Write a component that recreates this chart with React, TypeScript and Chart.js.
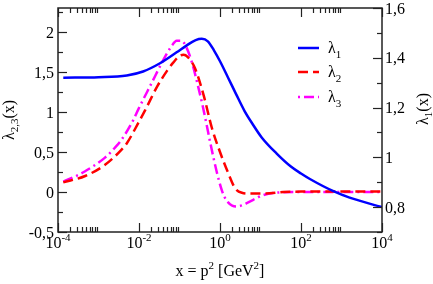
import React, { useEffect, useRef } from "react";
import { Chart, registerables } from "chart.js";

Chart.register(...registerables);

// ---- data (x = p^2 in GeV^2) ----
const lambda1X = [1.35e-4, 1e-3, 5.0e-3, 0.0126, 0.033, 0.085, 0.151, 0.251, 0.355, 0.501, 0.708, 1.0, 1.585, 2.512, 3.98, 6.31, 10.7, 25.1, 56.2, 100, 166, 631, 1585, 10000];
const lambda1Y = [1.32, 1.322, 1.329, 1.345, 1.378, 1.422, 1.45, 1.471, 1.476, 1.466, 1.43, 1.386, 1.32, 1.253, 1.188, 1.135, 1.08, 1.015, 0.963, 0.935, 0.913, 0.864, 0.838, 0.8];

const lambda2X = [1.35e-4, 4.68e-4, 1.45e-3, 3.72e-3, 5.01e-3, 9.55e-3, 0.0141, 0.0282, 0.0501, 0.0708, 0.1, 0.126, 0.158, 0.24, 0.389, 0.631, 1.0, 1.585, 2.34, 3.47, 5.5, 12.9, 36.3, 100, 10000];
const lambda2Y = [0.12, 0.2, 0.34, 0.53, 0.61, 0.86, 1.02, 1.32, 1.52, 1.62, 1.7, 1.715, 1.69, 1.55, 1.22, 0.8, 0.5, 0.24, 0.05, -0.01, -0.02, -0.02, 0.0, 0.005, 0.005];

const lambda3X = [1.35e-4, 3.09e-4, 4.68e-4, 1.45e-3, 2.51e-3, 3.55e-3, 7.24e-3, 9.55e-3, 0.0204, 0.0398, 0.0631, 0.0851, 0.112, 0.138, 0.2, 0.288, 0.38, 0.468, 0.562, 0.832, 1.096, 1.259, 1.585, 1.995, 2.63, 3.55, 4.57, 8.13, 10.7, 20.4, 100, 10000];
const lambda3Y = [0.13, 0.21, 0.26, 0.43, 0.55, 0.64, 0.9, 1.03, 1.36, 1.65, 1.82, 1.89, 1.89, 1.84, 1.63, 1.32, 1.06, 0.84, 0.64, 0.25, 0.03, -0.05, -0.13, -0.17, -0.18, -0.165, -0.14, -0.075, -0.045, -0.012, 0.0, 0.0];

const seriesLabels = ["λ1", "λ2", "λ3"];
const seriesColors = ["#0000ff", "#ff0000", "#ff00ff"];

// ---- ticks ----
const xMajorTicks = [1e-4, 1e-2, 1, 1e2, 1e4];
const xMajorExps = ["-4", "-2", "0", "2", "4"];
const yLeftTicks = [-0.5, 0, 0.5, 1, 1.5, 2];
const yLeftLabels = ["-0,5", "0", "0,5", "1", "1,5", "2"];
const yLeftMinor = [-0.25, 0.25, 0.75, 1.25, 1.75, 2.25];
const yRightTicks = [0.8, 1, 1.2, 1.4, 1.6];
const yRightLabels = ["0,8", "1", "1,2", "1,4", "1,6"];
const yRightMinor = [0.7, 0.9, 1.1, 1.3, 1.5];

const FONT = '"Liberation Serif", "DejaVu Serif", serif';

type Part = { t: string; size: number; dy: number };

function partsWidth(ctx: CanvasRenderingContext2D, parts: Part[]) {
  let w = 0;
  for (const p of parts) {
    ctx.font = `${p.size}px ${FONT}`;
    w += ctx.measureText(p.t).width;
  }
  return w;
}

function drawParts(ctx: CanvasRenderingContext2D, parts: Part[], x: number, y: number, align: "left" | "center" | "right") {
  const w = partsWidth(ctx, parts);
  let cx = align === "left" ? x : align === "center" ? x - w / 2 : x - w;
  ctx.textAlign = "left";
  ctx.textBaseline = "alphabetic";
  for (const p of parts) {
    ctx.font = `${p.size}px ${FONT}`;
    ctx.fillText(p.t, cx, y + p.dy);
    cx += ctx.measureText(p.t).width;
  }
}

const decorPlugin = {
  id: "decor",
  afterDraw(chart: any) {
    const ctx: CanvasRenderingContext2D = chart.ctx;
    const ca = chart.chartArea;
    const sx = chart.scales.x;
    const sl = chart.scales.yL;
    const sr = chart.scales.yR;
    ctx.save();
    ctx.strokeStyle = "#222";
    ctx.fillStyle = "#000";

    // ticks
    ctx.lineWidth = 1.2;
    const line = (x1: number, y1: number, x2: number, y2: number) => {
      ctx.beginPath();
      ctx.moveTo(x1, y1);
      ctx.lineTo(x2, y2);
      ctx.stroke();
    };
    const MAJ = 9;
    const MIN = 5;
    xMajorTicks.forEach((v, i) => {
      const px = Math.round(sx.getPixelForValue(v)) + 0.5;
      line(px, ca.bottom, px, ca.bottom - MAJ);
      line(px, ca.top, px, ca.top + MAJ);
      if (i < xMajorTicks.length - 1) {
        for (let k = 2; k <= 9; k++) {
          const mx = Math.round(sx.getPixelForValue(v * k)) + 0.5;
          line(mx, ca.bottom, mx, ca.bottom - MIN);
          line(mx, ca.top, mx, ca.top + MIN);
        }
      }
    });
    yLeftTicks.forEach((v) => {
      const py = Math.round(sl.getPixelForValue(v)) + 0.5;
      line(ca.left, py, ca.left + MAJ, py);
    });
    yLeftMinor.forEach((v) => {
      const py = Math.round(sl.getPixelForValue(v)) + 0.5;
      line(ca.left, py, ca.left + MIN, py);
    });
    yRightTicks.forEach((v) => {
      const py = Math.round(sr.getPixelForValue(v)) + 0.5;
      line(ca.right, py, ca.right - MAJ, py);
    });
    yRightMinor.forEach((v) => {
      const py = Math.round(sr.getPixelForValue(v)) + 0.5;
      line(ca.right, py, ca.right - MIN, py);
    });

    // frame
    ctx.lineWidth = 1.5;
    ctx.strokeRect(ca.left, ca.top, ca.right - ca.left, ca.bottom - ca.top);

    // tick labels
    xMajorTicks.forEach((v, i) => {
      const px = sx.getPixelForValue(v);
      drawParts(ctx, [{ t: "10", size: 16, dy: 0 }, { t: xMajorExps[i], size: 11, dy: -7 }], px, ca.bottom + 16, "center");
    });
    yLeftTicks.forEach((v, i) => {
      const py = sl.getPixelForValue(v);
      drawParts(ctx, [{ t: yLeftLabels[i], size: 16, dy: 0 }], ca.left - 4, py + 5.5, "right");
    });
    yRightTicks.forEach((v, i) => {
      const py = sr.getPixelForValue(v);
      drawParts(ctx, [{ t: yRightLabels[i], size: 16, dy: 0 }], ca.right + 3, py + 5.5, "left");
    });

    // axis titles
    drawParts(
      ctx,
      [
        { t: "x = p", size: 16, dy: 0 },
        { t: "2", size: 11, dy: -7 },
        { t: " [GeV", size: 16, dy: 0 },
        { t: "2", size: 11, dy: -7 },
        { t: "]", size: 16, dy: 0 },
      ],
      (ca.left + ca.right) / 2,
      ca.bottom + 44,
      "center"
    );
    ctx.save();
    ctx.translate(14, (ca.top + ca.bottom) / 2);
    ctx.rotate(-Math.PI / 2);
    drawParts(ctx, [{ t: "λ", size: 16, dy: 0 }, { t: "2,3", size: 11, dy: 4 }, { t: "(x)", size: 16, dy: 0 }], 0, 0, "center");
    ctx.restore();
    ctx.save();
    ctx.translate(428, 109);
    ctx.rotate(-Math.PI / 2);
    drawParts(ctx, [{ t: "λ", size: 16, dy: 0 }, { t: "1", size: 11, dy: 4 }, { t: "(x)", size: 16, dy: 0 }], 0, 0, "center");
    ctx.restore();

    // legend
    const rows = [48, 72, 97];
    chart.data.datasets.forEach((ds: any, i: number) => {
      const y = rows[i];
      ctx.save();
      ctx.strokeStyle = ds.borderColor;
      ctx.lineWidth = ds.borderWidth;
      ctx.setLineDash(ds.borderDash || []);
      ctx.lineDashOffset = i === 2 ? 14 : 0;
      line(298, y, 319, y);
      ctx.restore();
      const lbl: string = ds.label;
      drawParts(ctx, [{ t: lbl[0], size: 16, dy: 0 }, { t: lbl.slice(1), size: 11, dy: 5 }], 328, y + 4.5, "left");
    });

    ctx.restore();
  },
};

export default function App() {
  const ref = useRef<HTMLCanvasElement>(null);
  useEffect(() => {
    if (!ref.current) return;
    const mk = (xs: number[], ys: number[]) => xs.map((x, i) => ({ x, y: ys[i] }));
    const chart = new Chart(ref.current, {
      type: "line",
      data: {
        datasets: [
          {
            label: seriesLabels[0],
            data: mk(lambda1X, lambda1Y),
            borderColor: seriesColors[0],
            borderWidth: 2.5,
            pointRadius: 0,
            fill: false,
            cubicInterpolationMode: "monotone",
            yAxisID: "yR",
          },
          {
            label: seriesLabels[1],
            data: mk(lambda2X, lambda2Y),
            borderColor: seriesColors[1],
            borderWidth: 2.5,
            borderDash: [10, 5],
            pointRadius: 0,
            fill: false,
            cubicInterpolationMode: "monotone",
            yAxisID: "yL",
          },
          {
            label: seriesLabels[2],
            data: mk(lambda3X, lambda3Y),
            borderColor: seriesColors[2],
            borderWidth: 2.5,
            borderDash: [10, 4, 2, 4],
            pointRadius: 0,
            fill: false,
            cubicInterpolationMode: "monotone",
            yAxisID: "yL",
          },
        ],
      },
      options: {
        responsive: false,
        animation: false,
        layout: { padding: { left: 58, right: 51, top: 8, bottom: 52 } },
        plugins: { legend: { display: false }, tooltip: { enabled: false } },
        scales: {
          x: { type: "logarithmic", min: 1e-4, max: 1e4, display: false },
          yL: { type: "linear", position: "left", min: -0.5, max: 2.3, display: false },
          yR: { type: "linear", position: "right", min: 0.7, max: 1.6, display: false },
        },
      },
      plugins: [decorPlugin],
    } as any);
    return () => chart.destroy();
  }, []);
  return (
    <div style={{ position: "absolute", left: 0, top: 0, width: 433, height: 284, background: "#fff" }}>
      <canvas ref={ref} width={433} height={284} style={{ display: "block" }} />
    </div>
  );
}
